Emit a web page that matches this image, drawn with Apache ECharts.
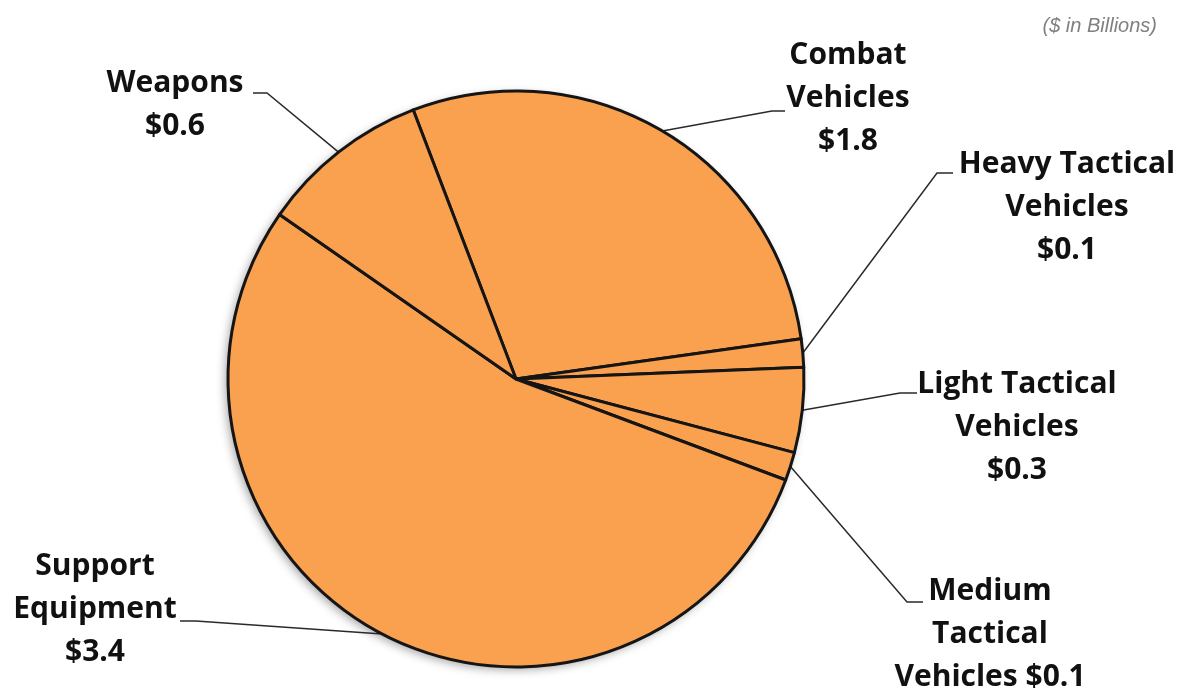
<!DOCTYPE html>
<html>
<head>
<meta charset="utf-8">
<script src="https://cdn.jsdelivr.net/npm/echarts@6/dist/echarts.min.js"></script>
<style>
  html, body { margin: 0; padding: 0; background: #ffffff; }
  #chart { width: 1189px; height: 692px; }
</style>
</head>
<body>
<div id="chart"></div>
<script>
// Procurement by equipment type, $ in billions
const categories = ['Combat Vehicles', 'Heavy Tactical Vehicles', 'Light Tactical Vehicles',
                    'Medium Tactical Vehicles', 'Support Equipment', 'Weapons'];
const values = [1.8, 0.1, 0.3, 0.1, 3.4, 0.6];
// how each category name wraps in its callout, and what separates it from the amount
const labelNames = ['Combat\nVehicles', 'Heavy Tactical\nVehicles', 'Light Tactical\nVehicles',
                    'Medium\nTactical\nVehicles', 'Support\nEquipment', 'Weapons'];
const valueBreaks = ['\n', '\n', '\n', ' ', '\n', '\n'];
const unitNote = '($ in Billions)';

// callout placement: text block centre, leader elbow and leader end (px)
const calloutSpots = [
  { x: 848,  y: 98,  elbow: [772, 111], end: [785, 111] },
  { x: 1067, y: 207, elbow: [937, 173], end: [953, 173] },
  { x: 1017, y: 427, elbow: [900, 393], end: [917, 393] },
  { x: 990,  y: 634, elbow: [907, 602], end: [923, 602] },
  { x: 95,   y: 609, elbow: [196, 621], end: [180, 621] },
  { x: 175,  y: 105, elbow: [267, 93],  end: [253, 93] }
];

const FILL = '#FAA150';
const CENTER = [516, 379];
const RADIUS = 288;
const total = values.reduce((a, b) => a + b, 0);

const chart = echarts.init(document.getElementById('chart'), null, { renderer: 'canvas' });

chart.setOption({
  animation: false,
  backgroundColor: '#ffffff',
  title: {
    text: unitNote,
    right: 27,
    top: 11,
    textStyle: {
      fontFamily: 'Liberation Sans, Arial, sans-serif',
      fontStyle: 'italic',
      fontWeight: 'normal',
      fontSize: 20,
      color: '#808080'
    }
  },
  series: [
    {
      // soft drop shadow under the whole disc
      type: 'pie',
      silent: true,
      center: CENTER,
      radius: RADIUS,
      z: 1,
      label: { show: false },
      labelLine: { show: false },
      itemStyle: {
        color: FILL,
        shadowBlur: 10,
        shadowColor: 'rgba(0,0,0,0.35)',
        shadowOffsetX: -3,
        shadowOffsetY: 3
      },
      data: [{ value: total, name: 'all' }]
    },
    {
      type: 'pie',
      center: CENTER,
      radius: RADIUS,
      startAngle: 110.9,
      clockwise: true,
      z: 2,
      avoidLabelOverlap: false,
      itemStyle: {
        color: FILL,
        borderColor: '#151515',
        borderWidth: 3
      },
      label: {
        show: true,
        position: 'outside',
        formatter: p => labelNames[p.dataIndex] + valueBreaks[p.dataIndex] + '$' + p.value.toFixed(1),
        fontFamily: 'Open Sans, sans-serif',
        fontWeight: 'bold',
        fontSize: 30,
        lineHeight: 43,
        color: '#111111',
        align: 'center'
      },
      labelLine: {
        show: true,
        length: 20,
        length2: 20,
        lineStyle: { color: '#2a2a2a', width: 1.5 }
      },
      labelLayout: function (params) {
        const s = calloutSpots[params.dataIndex];
        const out = { x: s.x, y: s.y, align: 'center', verticalAlign: 'middle' };
        if (params.labelLinePoints && params.labelLinePoints.length) {
          out.labelLinePoints = [params.labelLinePoints[0], s.elbow, s.end];
        }
        return out;
      },
      emphasis: { disabled: true },
      data: categories.map((c, i) => ({ name: c, value: values[i] }))
    }
  ]
});
</script>
</body>
</html>
